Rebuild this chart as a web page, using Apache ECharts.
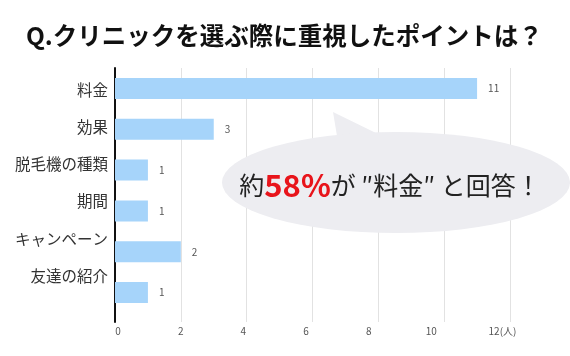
<!DOCTYPE html>
<html>
<head>
<meta charset="utf-8">
<script src="https://cdn.jsdelivr.net/npm/echarts@6/dist/echarts.min.js"></script>
<style>
html,body{margin:0;padding:0;background:#fff;}
#chart{width:570px;height:356px;}
</style>
</head>
<body>
<div id="chart"></div>
<script>
const categories = ['料金', '効果', '脱毛機の種類', '期間', 'キャンペーン', '友達の紹介'];
const values = [11, 3, 1, 1, 2, 1];
const axisMax = 12;
const axisStep = 2;
const unitLabel = '(人)';
const titleText = 'Q.クリニックを選ぶ際に重視したポイントは？';

const FONT = '"Noto Sans CJK JP", "Noto Sans", sans-serif';
const chart = echarts.init(document.getElementById('chart'), null, {renderer: 'canvas'});

const option = {
  animation: false,
  backgroundColor: '#ffffff',
  textStyle: {fontFamily: FONT},
  title: {
    text: titleText,
    left: 21,
    top: 18,
    textStyle: {fontSize: 24.5, fontWeight: 'bold', color: '#111', fontFamily: FONT}
  },
  grid: [
    {left: 115, top: 68, width: 395, height: 254},
    {left: 115, top: 68, width: 395, height: 245},
    {left: 118, top: 71.4, width: 376, height: 223}
  ],
  xAxis: [
    {gridIndex: 0, type: 'value', min: 0, max: axisMax, interval: axisStep,
     axisLabel: {show: false}, axisLine: {show: false}, axisTick: {show: false},
     splitLine: {show: true, lineStyle: {color: '#e2e2e2', width: 1}}},
    {gridIndex: 1, type: 'value', min: 0, max: axisMax, show: false},
    {gridIndex: 2, type: 'value', min: 0, max: axisMax, interval: axisStep, offset: 23.6,
     axisLine: {show: false}, axisTick: {show: false}, splitLine: {show: false},
     axisLabel: {
       margin: 8, fontSize: 10, color: '#555', fontFamily: FONT,
       formatter: v => v === axisMax ? '{p|}' + v + unitLabel : String(v),
       rich: {p: {width: 17}}
     }}
  ],
  yAxis: [
    {gridIndex: 0, type: 'value', min: 0, max: 1,
     axisLine: {show: true, lineStyle: {color: '#111', width: 2}},
     axisLabel: {show: false}, axisTick: {show: false}, splitLine: {show: false}},
    {gridIndex: 1, type: 'category', data: categories, inverse: true, show: false},
    {gridIndex: 2, type: 'category', data: categories, inverse: true,
     axisLine: {show: false}, axisTick: {show: false}, splitLine: {show: false},
     axisLabel: {fontSize: 15.5, color: '#333', margin: 10, fontFamily: FONT}}
  ],
  series: [{
    type: 'bar',
    xAxisIndex: 1,
    yAxisIndex: 1,
    data: values,
    barWidth: 21,
    itemStyle: {color: '#a6d4fa'},
    label: {show: true, position: 'right', distance: 11, fontSize: 10, color: '#555', fontFamily: FONT},
    z: 2
  }],
  graphic: [
    {type: 'polygon', z: 100, shape: {points: [[333, 112], [338, 142], [378, 134]]},
     style: {fill: '#ededf1'}},
    {type: 'circle', z: 100, x: 396, y: 182.5, scaleX: 3.446, scaleY: 1,
     shape: {cx: 0, cy: 0, r: 50.5}, style: {fill: '#ededf1'}},
    {type: 'text', z: 101, x: 390, y: 185,
     style: {
       text: '{a|約}{b|58%}{a|が ″料金″ と回答！}',
       align: 'center', verticalAlign: 'middle',
       rich: {
         a: {fontSize: 25, fill: '#222', fontFamily: FONT},
         b: {fontSize: 31, fill: '#e8141b', fontWeight: 'bold', fontFamily: FONT}
       }
     }}
  ]
};
chart.setOption(option);
</script>
</body>
</html>
